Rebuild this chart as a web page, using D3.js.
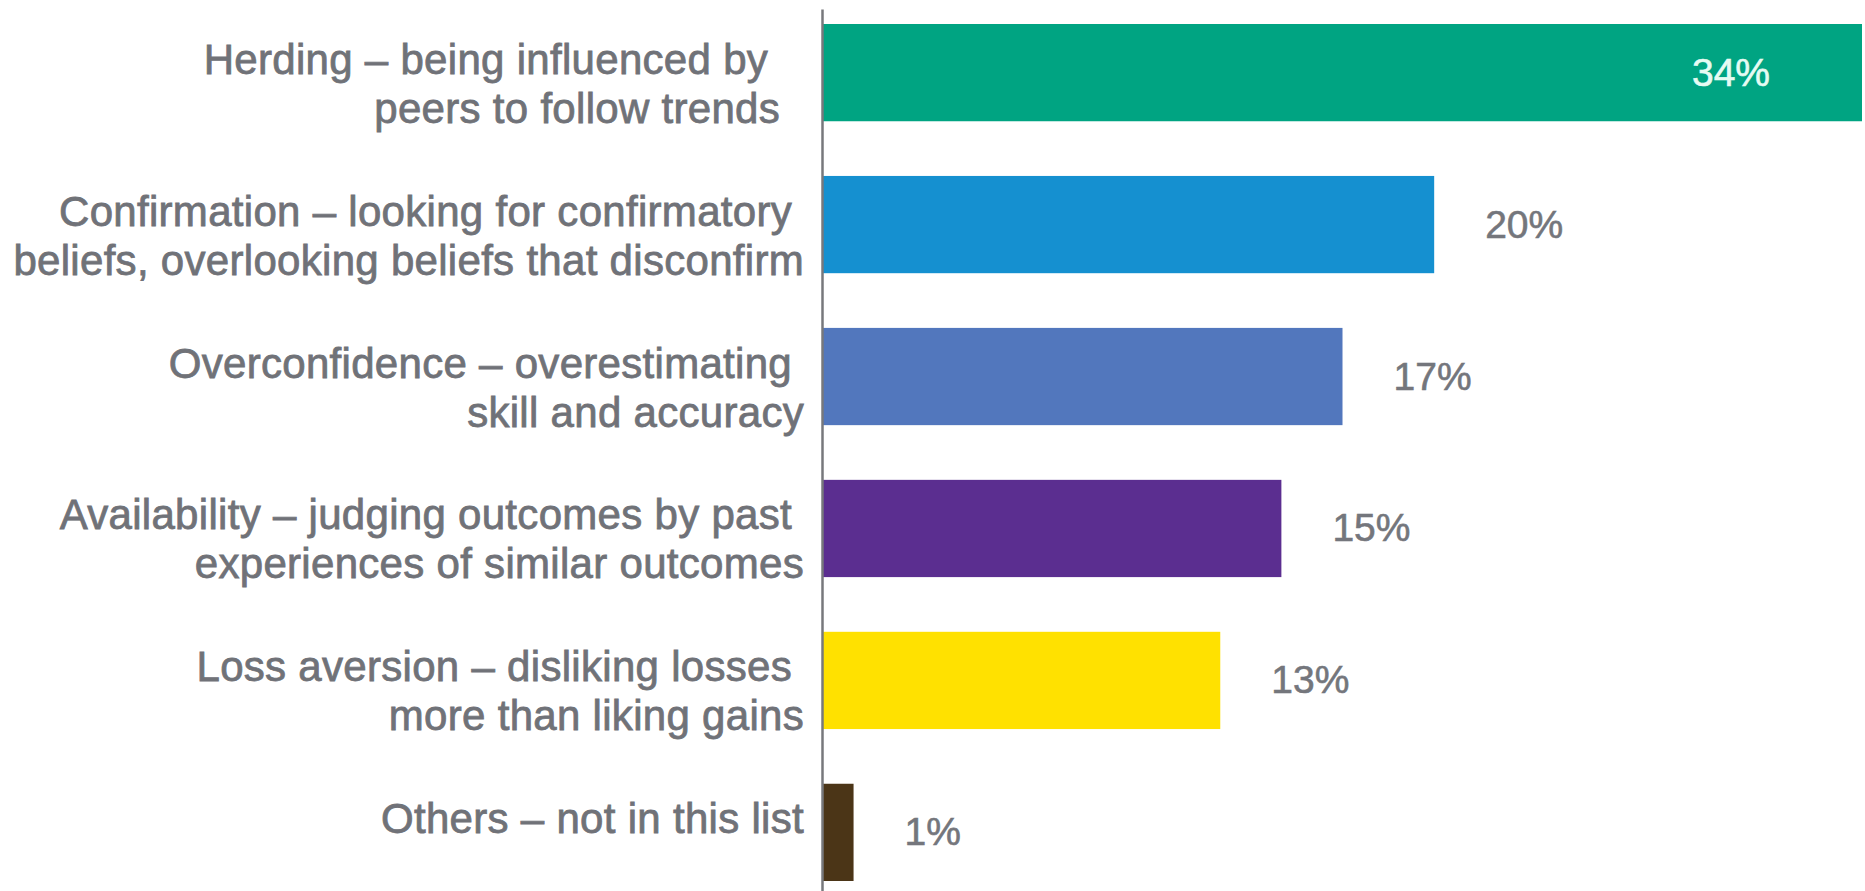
<!DOCTYPE html>
<html>
<head>
<meta charset="utf-8">
<script src="https://cdn.jsdelivr.net/npm/d3@7"></script>
<style>
  html, body { margin: 0; padding: 0; background: #ffffff; }
  svg { display: block; }
  text { font-family: "Liberation Sans", Arial, sans-serif; white-space: pre; }
</style>
</head>
<body>
<svg id="chart" width="1865" height="891"></svg>
<script>
// ---- data ----
const categories = ["Herding", "Confirmation", "Overconfidence", "Availability", "Loss aversion", "Others"];
const labelLines = [
  ["Herding – being influenced by   ", "peers to follow trends  "],
  ["Confirmation – looking for confirmatory ", "beliefs, overlooking beliefs that disconfirm"],
  ["Overconfidence – overestimating ", "skill and accuracy"],
  ["Availability – judging outcomes by past ", "experiences of similar outcomes"],
  ["Loss aversion – disliking losses ", "more than liking gains"],
  ["Others – not in this list"]
];
const values = [34, 20, 17, 15, 13, 1];
const valueLabels = ["34%", "20%", "17%", "15%", "13%", "1%"];
const colors = ["#00a482", "#1590d0", "#5277bd", "#5b2e90", "#ffe100", "#4b3517"];

// ---- layout ----
const W = 1865, H = 891;
const axisX = 822;
const svg = d3.select("#chart");

const x = d3.scaleLinear().domain([0, 34]).range([axisX + 1, 1862]);
const y = d3.scaleBand().domain(categories).range([24, 881]).paddingInner(0.36).paddingOuter(0);

const rows = categories.map((c, i) => ({
  cat: c, value: values[i], label: valueLabels[i], lines: labelLines[i], color: colors[i]
}));

// bars
svg.append("g").selectAll("rect").data(rows).join("rect")
  .attr("x", x(0))
  .attr("y", d => y(d.cat))
  .attr("width", d => x(d.value) - x(0))
  .attr("height", y.bandwidth())
  .attr("fill", d => d.color);

// axis line (d3 axis, no ticks)
const axisG = svg.append("g")
  .attr("transform", `translate(${axisX},0)`)
  .call(d3.axisLeft(d3.scaleLinear().range([9, H])).tickValues([]).tickSizeOuter(0));
axisG.select(".domain").attr("stroke", "#77787c").attr("stroke-width", 2.5);

// category labels
const lineH = 49;
const lab = svg.append("g").selectAll("text").data(rows).join("text")
  .attr("xml:space", "preserve")
  .attr("text-anchor", "end")
  .attr("font-size", 42)
  .attr("letter-spacing", 0.3)
  .attr("fill", "#707278")
  .attr("stroke", "#707278")
  .attr("stroke-width", 0.8);
lab.each(function(d) {
  const c = y(d.cat) + y.bandwidth() / 2;
  d3.select(this).selectAll("tspan").data(d.lines).join("tspan")
    .attr("x", axisX - 18)
    .attr("y", (t, i) => c + 1 + i * lineH)
    .text(t => t);
});

// value labels
svg.append("g").selectAll("text").data(rows).join("text")
  .attr("font-size", 39)
  .attr("x", d => d.value >= 30 ? x(d.value) - 92 : x(d.value) + 51)
  .attr("text-anchor", d => d.value >= 30 ? "end" : "start")
  .attr("y", d => y(d.cat) + y.bandwidth() / 2 + 13)
  .attr("fill", d => d.value >= 30 ? "#e6fbf3" : "#74767c")
  .attr("stroke", d => d.value >= 30 ? "#e6fbf3" : "#74767c")
  .attr("stroke-width", 0.6)
  .text(d => d.label);
</script>
</body>
</html>
